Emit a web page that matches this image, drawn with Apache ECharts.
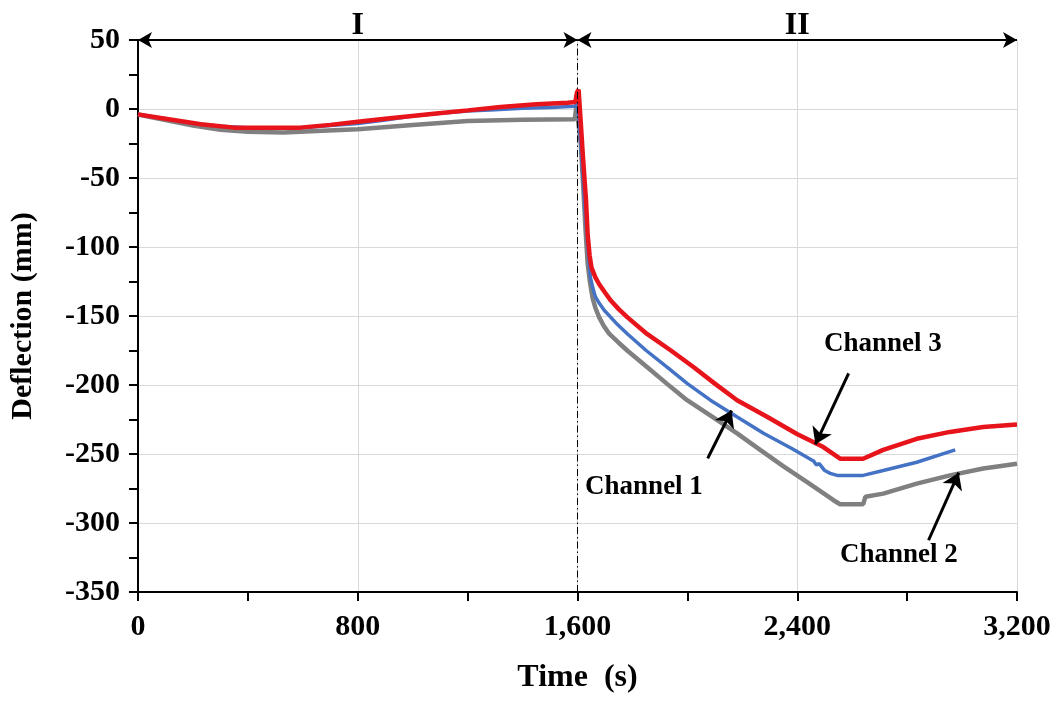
<!DOCTYPE html>
<html>
<head>
<meta charset="utf-8">
<script src="https://cdn.jsdelivr.net/npm/echarts@6/dist/echarts.min.js"></script>
<style>html,body{margin:0;padding:0;background:#fff}#c{width:1057px;height:702px}</style>
</head>
<body>
<div id="c"></div>
<script>
// ---- data (time in s, deflection in mm) ----
const ch2Time = [0,100,200,300,400,530,650,800,1000,1200,1400,1590,1596,1603,1612,1622,1630,1637,1645,1655,1665,1679,1695,1716,1748,1781,1853,1925,1999,2090,2181,2265,2350,2440,2532,2556,2640,2648,2713,2835,2956,3077,3200];
const ch2Defl = [-4,-8,-12,-15,-16.5,-17,-16,-14.7,-11.6,-8.7,-7.8,-7.5,2,3,-25,-60,-90,-112,-125,-137,-144,-151,-157,-163,-169,-175,-187,-199,-211,-223,-235,-247,-259,-271,-283.5,-286.4,-286.4,-281,-278.7,-271.5,-265.5,-260.5,-257];

const ch1Time = [0,100,200,300,400,500,600,700,800,900,1000,1100,1200,1300,1400,1500,1590,1600,1610,1620,1630,1640,1647,1655,1665,1680,1698,1740,1782,1850,1926,2000,2084,2180,2277,2380,2459,2470,2480,2500,2520,2545,2640,2713,2835,2975];
const ch1Defl = [-4,-7,-10.5,-12.5,-13.5,-14,-13.5,-12,-10.5,-8,-5,-3,-1.4,-0.5,0.5,1,2,4,-20,-50,-80,-105,-122,-129,-136,-141,-146,-155,-163,-175,-187,-199,-211,-223,-235,-246,-255,-258,-257,-262,-264,-265.5,-265.5,-262,-256,-247];

const ch3Time = [0,100,229,350,470,590,700,800,900,1077,1200,1320,1450,1564,1592,1598,1604,1612,1620,1631,1637,1644,1651,1665,1679,1700,1722,1750,1782,1853,1940,2022,2100,2181,2290,2399,2495,2556,2640,2713,2835,2956,3077,3200];
const ch3Defl = [-3.9,-7,-11,-13.5,-13.5,-13.5,-11.5,-9.2,-7,-3.4,-1,1.4,3.5,4.6,5,12,14,-10,-35,-66,-91,-106,-115,-122,-127,-133,-139,-145,-151,-163,-175,-187,-199,-211,-223,-235.5,-245,-253.4,-253.4,-247,-239,-234,-230.5,-228.6];

const xTicks = [0, 800, 1600, 2400, 3200];
const yTicks = [50, 0, -50, -100, -150, -200, -250, -300, -350];
const phaseLabels = ['I', 'II'];
const phaseBounds = [0, 1600, 3200];
const channelNames = ['Channel 1', 'Channel 2', 'Channel 3'];

const zip = (t, v) => t.map((x, i) => [x, v[i]]);
const FONT = "'Times New Roman','Liberation Serif',serif";
const txt = (size) => ({ fontFamily: FONT, fontWeight: 'bold', fontSize: size, color: '#000' });

const chart = echarts.init(document.getElementById('c'), null, { renderer: 'canvas' });

const arrowLine = (a, b) => [{ coord: a, symbol: 'none' }, { coord: b, symbol: 'arrow' }];
const textPoint = (name, coord) => ({
  coord, symbol: 'rect', symbolSize: 1, itemStyle: { color: 'rgba(0,0,0,0)' },
  label: Object.assign({ show: true, position: 'inside', formatter: name }, txt(27))
});

chart.setOption({
  animation: false,
  backgroundColor: '#fff',
  grid: { left: 137, right: 40, top: 40, bottom: 110, containLabel: false },
  xAxis: {
    type: 'value', min: xTicks[0], max: xTicks[xTicks.length - 1], interval: 800,
    name: 'Time  (s)', nameLocation: 'middle', nameGap: 70,
    nameTextStyle: txt(32),
    axisLine: { onZero: false, lineStyle: { color: '#000', width: 2 } },
    axisTick: { show: true, length: 9, lineStyle: { color: '#000', width: 2 } },
    minorTick: { show: true, splitNumber: 2, length: 9, lineStyle: { color: '#000', width: 2 } },
    axisLabel: Object.assign({ margin: 20, formatter: v => v.toLocaleString('en-US') }, txt(30)),
    splitLine: { show: true, lineStyle: { color: '#d9d9d9', width: 1 } }
  },
  yAxis: {
    type: 'value', min: yTicks[yTicks.length - 1], max: yTicks[0], interval: 50,
    name: 'Deflection (mm)', nameLocation: 'middle', nameGap: 100, nameRotate: 90,
    nameTextStyle: txt(30),
    axisLine: { lineStyle: { color: '#000', width: 2 } },
    axisTick: { show: true, length: 9, lineStyle: { color: '#000', width: 2 } },
    minorTick: { show: true, splitNumber: 2, length: 9, lineStyle: { color: '#000', width: 2 } },
    axisLabel: Object.assign({ margin: 18 }, txt(30)),
    splitLine: { show: true, lineStyle: { color: '#d9d9d9', width: 1 } }
  },
  series: [
    {
      name: channelNames[1], type: 'line', data: zip(ch2Time, ch2Defl), showSymbol: false, symbol: 'none',
      lineStyle: { color: '#808080', width: 4.5 }, z: 2
    },
    {
      name: channelNames[0], type: 'line', data: zip(ch1Time, ch1Defl), showSymbol: false, symbol: 'none',
      lineStyle: { color: '#4472c4', width: 3.5 }, z: 3
    },
    {
      name: channelNames[2], type: 'line', data: zip(ch3Time, ch3Defl), showSymbol: false, symbol: 'none',
      lineStyle: { color: '#e8141c', width: 4.5 }, z: 4
    },
    {
      // dashed boundary between phases
      type: 'line', data: [], z: 1, silent: true,
      markLine: {
        silent: true, symbol: 'none', animation: false,
        label: { show: false },
        lineStyle: { color: '#000', width: 1, type: [7, 3, 1.5, 3] },
        data: [{ xAxis: phaseBounds[1] }]
      }
    },
    {
      // phase arrows at the top
      type: 'line', data: [], z: 6, silent: true, clip: false,
      markLine: {
        silent: true, animation: false,
        symbol: ['arrow', 'arrow'], symbolSize: [12, 14],
        lineStyle: { color: '#000', width: 2, type: 'solid' },
        label: Object.assign({ show: true, position: 'middle', distance: -2 }, txt(32)),
        data: [
          [{ coord: [phaseBounds[0], 50], name: phaseLabels[0] }, { coord: [phaseBounds[1], 50] }],
          [{ coord: [phaseBounds[1], 50], name: phaseLabels[1] }, { coord: [phaseBounds[2], 50] }]
        ].map(d => { d[0].label = { formatter: d[0].name }; return d; })
      }
    },
    {
      // channel annotations
      type: 'line', data: [], z: 7, silent: true, clip: false,
      markLine: {
        silent: true, animation: false, symbolSize: 16,
        lineStyle: { color: '#000', width: 3, type: 'solid' },
        label: { show: false },
        data: [
          arrowLine([2587, -191.5], [2466, -243]),
          arrowLine([2074, -253.2], [2161, -218.5]),
          arrowLine([2878, -312.5], [2988, -263.5])
        ]
      },
      markPoint: {
        silent: true, animation: false,
        data: [
          textPoint(channelNames[2], [2712, -170]),
          textPoint(channelNames[0], [1842, -274]),
          textPoint(channelNames[1], [2770, -323.3])
        ]
      }
    }
  ]
});
</script>
</body>
</html>
